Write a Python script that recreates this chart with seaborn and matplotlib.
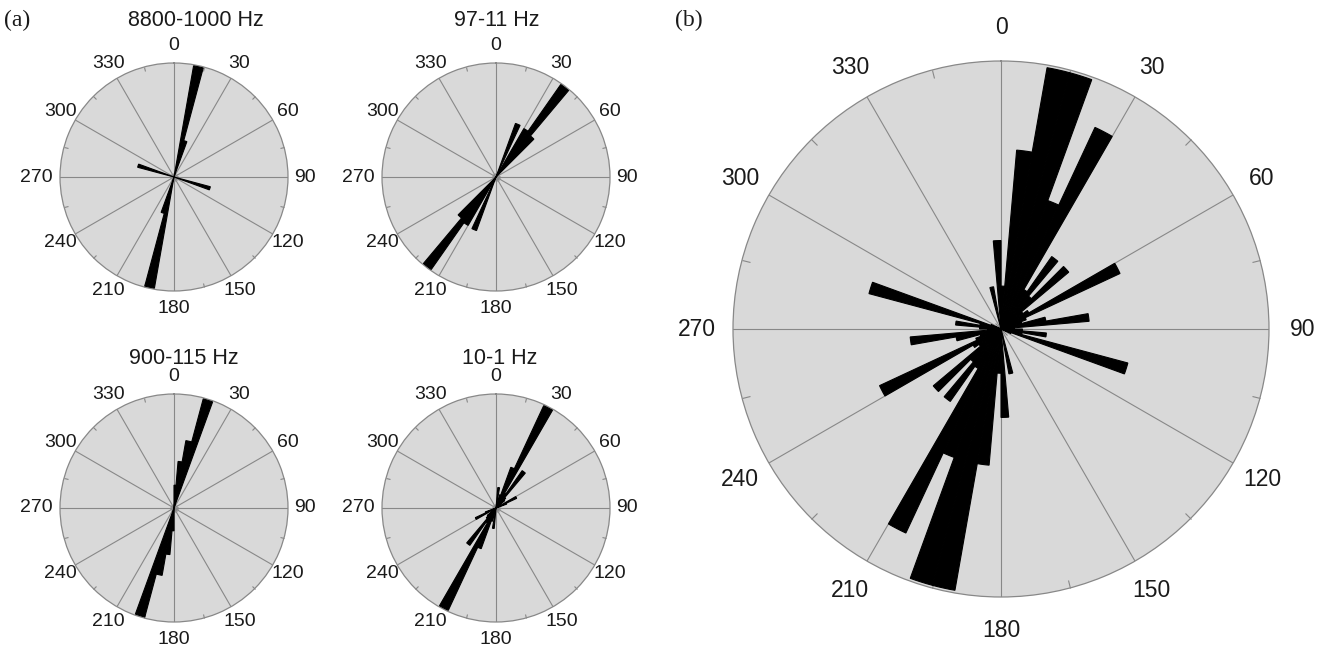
import numpy as np
import matplotlib
matplotlib.use("Agg")
import matplotlib.pyplot as plt
import seaborn as sns

sns.set_theme(style="white")
plt.rcParams["font.family"] = ["Liberation Sans", "DejaVu Sans"]

# ---------------- data (bin start angle in degrees, relative bar length) ----------------
BIN_WIDTH = 5
ANGLE_LABELS = list(range(0, 360, 30))

title_1 = "8800-1000 Hz"
bins_1 = [10, 15, 105, 190, 195, 285]
vals_1 = [0.99, 0.33, 0.33, 0.99, 0.33, 0.33]

title_2 = "97-11 Hz"
bins_2 = [20, 25, 30, 35, 40, 200, 205, 210, 215, 220]
vals_2 = [0.50, 0.08, 0.49, 0.99, 0.47, 0.50, 0.08, 0.49, 0.99, 0.47]

title_3 = "900-115 Hz"
bins_3 = [0, 5, 10, 15, 180, 185, 190, 195]
vals_3 = [0.20, 0.41, 0.60, 0.99, 0.20, 0.41, 0.60, 0.99]

title_4 = "10-1 Hz"
bins_4 = [5, 15, 20, 25, 30, 35, 40, 45, 60, 65,
          185, 195, 200, 205, 210, 215, 220, 225, 240, 245]
vals_4 = [0.18, 0.12, 0.38, 0.99, 0.15, 0.40, 0.12, 0.10, 0.20, 0.10,
          0.18, 0.12, 0.38, 0.99, 0.15, 0.40, 0.12, 0.10, 0.20, 0.10]

bins_b = [0, 5, 10, 15, 20, 25, 30, 35, 40, 45, 50, 55, 60, 65, 70, 75, 80, 85,
          90, 95, 100, 105, 110, 165, 175,
          180, 185, 190, 195, 200, 205, 210, 215, 220, 225, 230, 235, 240, 245,
          250, 255, 260, 265, 270, 275, 280, 285, 290, 345, 355]
vals_b = [0.16, 0.67, 0.99, 0.99, 0.51, 0.83, 0.17, 0.33, 0.16, 0.33, 0.10, 0.12,
          0.49, 0.10, 0.08, 0.17, 0.33, 0.05, 0.08, 0.17, 0.08, 0.49, 0.04, 0.17, 0.33,
          0.165, 0.51, 0.99, 0.99, 0.51, 0.84, 0.17, 0.33, 0.16, 0.33, 0.10, 0.12,
          0.50, 0.10, 0.08, 0.17, 0.34, 0.05, 0.08, 0.17, 0.08, 0.51, 0.04, 0.16, 0.33]

# ---------------- layout ----------------
W, H = 1324, 650
fig = plt.figure(figsize=(W / 100, H / 100), dpi=100)
fig.patch.set_facecolor("white")

FACE = "#d9d9d9"
GRID = "#888888"


def rect(cx, cy, r):
    return [(cx - r) / W, (H - cy - r) / H, 2 * r / W, 2 * r / H]


def draw_rose(cx, cy, R, bins, vals, fs, label_r, left_extra, tick_len):
    ax = fig.add_axes(rect(cx, cy, R), projection="polar")
    ax.set_theta_zero_location("N")
    ax.set_theta_direction(-1)
    ax.set_facecolor(FACE)
    ax.set_axisbelow(True)
    ax.bar(np.deg2rad(bins), vals, width=np.deg2rad(BIN_WIDTH), align="edge",
           color="black", edgecolor="black", linewidth=0.8, zorder=3)
    ax.set_ylim(0, 1)
    ax.set_yticks([])
    ax.yaxis.grid(False)
    ax.set_xticks(np.deg2rad(ANGLE_LABELS))
    ax.set_xticklabels([])
    ax.xaxis.grid(True, color=GRID, linewidth=0.8)
    ax.set_xticks(np.deg2rad(np.arange(15, 360, 30)), minor=True)
    ax.tick_params(axis="x", which="major", length=0)
    ax.tick_params(axis="x", which="minor", bottom=True, top=True, direction="in",
                   length=tick_len, width=0.8, color=GRID)
    ax.spines["polar"].set_color(GRID)
    ax.spines["polar"].set_linewidth(0.9)
    for deg in ANGLE_LABELS:
        extra = left_extra if deg == 270 else 0.0
        ax.text(np.deg2rad(deg), label_r + extra, str(deg), ha="center", va="center",
                fontsize=fs, color="#1a1a1a", clip_on=False)
    return ax


small_fs = 14
draw_rose(174, 177, 114, bins_1, vals_1, small_fs, 1.15, 0.06, 3)
draw_rose(496, 177, 114, bins_2, vals_2, small_fs, 1.15, 0.06, 3)
draw_rose(174, 508, 114, bins_3, vals_3, small_fs, 1.15, 0.06, 3)
draw_rose(496, 508, 114, bins_4, vals_4, small_fs, 1.15, 0.06, 3)
draw_rose(1001, 329, 268, bins_b, vals_b, 16.5, 1.125, 0.01, 6)

title_fs = 15.5
for txt, x, y in [(title_1, 196, 20), (title_2, 497, 20),
                  (title_3, 184, 358), (title_4, 500, 358)]:
    fig.text(x / W, 1 - y / H, txt, ha="center", va="center", fontsize=title_fs,
             color="#1a1a1a")

fig.text(4 / W, 1 - 20 / H, "(a)", ha="left", va="center", fontsize=17,
         family=["Liberation Serif", "DejaVu Serif"], color="#1a1a1a")
fig.text(675 / W, 1 - 20 / H, "(b)", ha="left", va="center", fontsize=17,
         family=["Liberation Serif", "DejaVu Serif"], color="#1a1a1a")

fig.savefig("out.png", dpi=100, facecolor="white")
